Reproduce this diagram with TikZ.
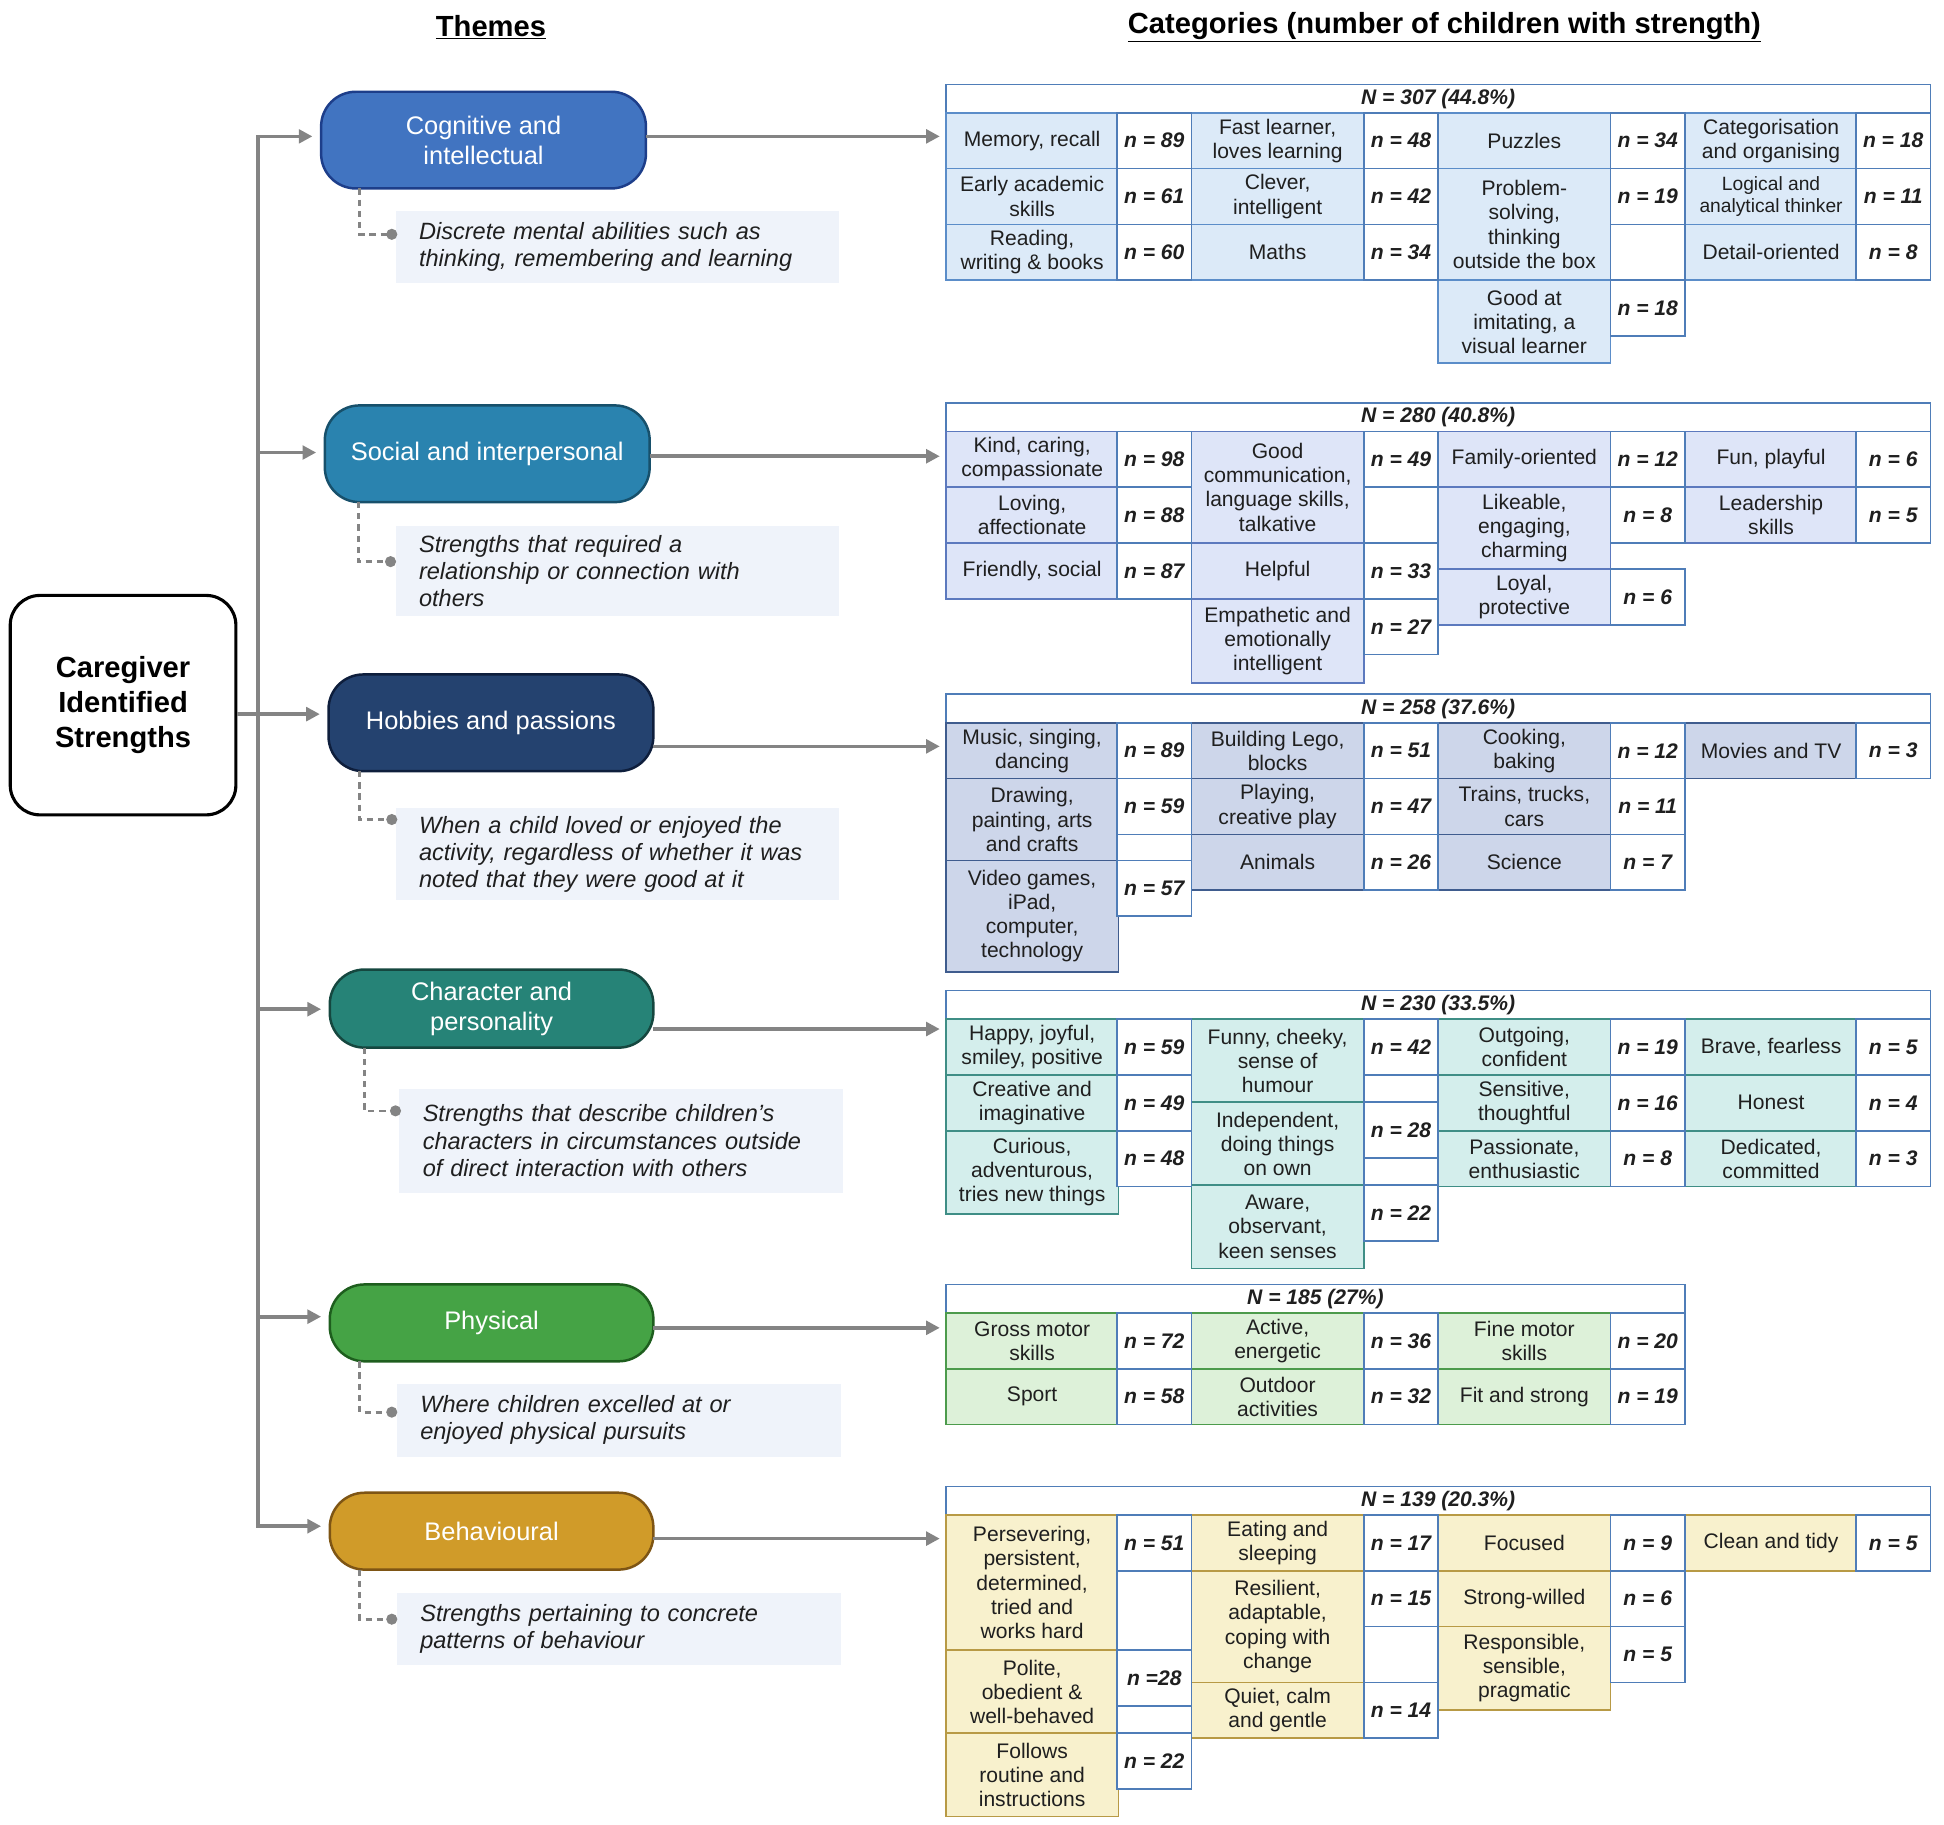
\documentclass[tikz,border=0pt]{standalone}
\usepackage{fontspec}
\setmainfont{Liberation Sans}
\usepackage{tikz}
\usetikzlibrary{arrows.meta}

\definecolor{arrgray}{HTML}{848484}
\definecolor{nblue}{HTML}{4F7DB8}
\definecolor{descfill}{HTML}{EFF3FA}
\definecolor{cogfill}{HTML}{DCEAF8}
\definecolor{cogline}{HTML}{5B8DC9}
\definecolor{socfill}{HTML}{DEE5F8}
\definecolor{socline}{HTML}{5C79BE}
\definecolor{hobfill}{HTML}{CDD6EA}
\definecolor{hobline}{HTML}{3F5C8E}
\definecolor{chafill}{HTML}{D4EEEC}
\definecolor{chaline}{HTML}{3F8E86}
\definecolor{phyfill}{HTML}{DDF1D9}
\definecolor{phyline}{HTML}{4C9B4C}
\definecolor{behfill}{HTML}{F8F1CD}
\definecolor{behline}{HTML}{B89A45}
\definecolor{cogbox}{HTML}{4174C1}
\definecolor{cogedge}{HTML}{1D3E8A}
\definecolor{socbox}{HTML}{2A83AF}
\definecolor{socedge}{HTML}{17506B}
\definecolor{hobbox}{HTML}{24426F}
\definecolor{hobedge}{HTML}{0E1E3C}
\definecolor{chabox}{HTML}{268377}
\definecolor{chaedge}{HTML}{15473F}
\definecolor{phybox}{HTML}{45A345}
\definecolor{phyedge}{HTML}{1E5E1E}
\definecolor{behbox}{HTML}{D09B29}
\definecolor{behedge}{HTML}{7E5514}

\begin{document}
\begin{tikzpicture}[x=1pt, y=-1pt, >={Triangle[length=11pt,width=11pt]},
    cell/.style={draw, anchor=north west, outer sep=0pt, inner sep=1pt, line width=1.3pt, align=center,
        minimum width=139, minimum height=45, text=black!88, font=\fontsize{17}{19.5}\selectfont},
    num/.style={cell, draw=nblue, fill=white, minimum width=60, font=\fontsize{17}{19.5}\selectfont\bfseries\itshape},
    head/.style={cell, draw=nblue, fill=white, minimum height=23, inner sep=0pt, font=\fontsize{17}{19}\selectfont\bfseries\itshape},
    cog/.style={cell, draw=cogline, fill=cogfill},
    soc/.style={cell, draw=socline, fill=socfill},
    hob/.style={cell, draw=hobline, fill=hobfill},
    cha/.style={cell, draw=chaline, fill=chafill},
    phy/.style={cell, draw=phyline, fill=phyfill},
    beh/.style={cell, draw=behline, fill=behfill},
    theme/.style={draw, line width=2pt, rounded corners=28pt, anchor=north west, outer sep=0pt, align=center,
        text=white, font=\fontsize{20.5}{24}\selectfont},
    desc/.style={fill=descfill, anchor=north west, outer sep=0pt, text width=320pt, inner xsep=19pt, inner ysep=0pt,
        align=left, text=black!88, font=\fontsize{19}{22}\selectfont\itshape},
    arr/.style={->, draw=arrgray, line width=3pt},
    dsh/.style={draw=arrgray, line width=2.2pt, dash pattern=on 5pt off 4pt},
    ]
    \useasboundingbox (0,0) rectangle (1568,1472);

    % titles
    \node [font=\fontsize{23.5}{28}\selectfont\bfseries] (tthemes) at (396,22) {\underline{Themes}};
    \node [font=\fontsize{23.5}{28}\selectfont\bfseries] (tcats) at (1165,22) {\underline{Categories (number of children with strength)}};

    % root and themes
    \node [draw, line width=2.5pt, rounded corners=24pt, anchor=north west, minimum width=182, minimum height=177,
        align=center, font=\fontsize{23.5}{28}\selectfont\bfseries] (care) at (7,479) {Caregiver\\Identified\\Strengths};
    \node [theme, fill=cogbox, draw=cogedge, minimum width=262, minimum height=78] (cog) at (259,74) {Cognitive and\\intellectual};
    \node [theme, fill=socbox, draw=socedge, minimum width=262, minimum height=78] (soc) at (262,327) {Social and interpersonal};
    \node [theme, fill=hobbox, draw=hobedge, minimum width=262, minimum height=78] (hob) at (265,544) {Hobbies and passions};
    \node [theme, fill=chabox, draw=chaedge, minimum width=261, minimum height=63] (cha) at (266,782) {Character and\\personality};
    \node [theme, fill=phybox, draw=phyedge, minimum width=261, minimum height=62] (phy) at (266,1036) {Physical};
    \node [theme, fill=behbox, draw=behedge, minimum width=261, minimum height=62] (beh) at (266,1204) {Behavioural};

    % descriptions
    \node [desc, minimum height=58] (d1) at (319,170) {Discrete mental abilities such as\\thinking, remembering and learning};
    \node [desc, minimum height=73] (d2) at (319,424) {Strengths that required a\\relationship or connection with\\others};
    \node [desc, minimum height=74] (d3) at (319,652) {When a child loved or enjoyed the\\activity, regardless of whether it was\\noted that they were good at it};
    \node [desc, minimum height=84] (d4) at (322,878) {Strengths that describe children’s\\characters in circumstances outside\\of direct interaction with others};
    \node [desc, minimum height=59] (d5) at (320,1116) {Where children excelled at or\\enjoyed physical pursuits};
    \node [desc, minimum height=58] (d6) at (320,1285) {Strengths pertaining to concrete\\patterns of behaviour};

    % cognitive and intellectual
    \node [head, minimum width=794] (cogh) at (763,68) {N = 307 (44.8\%)};
    \node [cog] (c11) at (763,91) {Memory, recall};
    \node [cog] (c12) at (763,136) {Early academic\\skills};
    \node [cog] (c13) at (763,181) {Reading,\\writing \& books};
    \node [cog] (c21) at (961,91) {Fast learner,\\loves learning};
    \node [cog] (c22) at (961,136) {Clever,\\intelligent};
    \node [cog] (c23) at (961,181) {Maths};
    \node [cog] (c31) at (1160,91) {Puzzles};
    \node [cog, minimum height=90] (c32) at (1160,136) {Problem-\\solving,\\thinking\\outside the box};
    \node [cog, minimum height=67] (c34) at (1160,226) {Good at\\imitating, a\\visual learner};
    \node [cog] (c41) at (1359,91) {Categorisation\\and organising};
    \node [cog, font=\fontsize{15.5}{17}\selectfont] (c42) at (1359,136) {Logical and\\analytical thinker};
    \node [cog] (c43) at (1359,181) {Detail-oriented};
    \node [num] (cn11) at (901,91) {n = 89};
    \node [num] (cn12) at (901,136) {n = 61};
    \node [num] (cn13) at (901,181) {n = 60};
    \node [num] (cn21) at (1100,91) {n = 48};
    \node [num] (cn22) at (1100,136) {n = 42};
    \node [num] (cn23) at (1100,181) {n = 34};
    \node [num] (cn31) at (1299,91) {n = 34};
    \node [num] (cn32) at (1299,136) {n = 19};
    \node [num] (cn33) at (1299,181) {};
    \node [num] (cn34) at (1299,226) {n = 18};
    \node [num] (cn41) at (1497,91) {n = 18};
    \node [num] (cn42) at (1497,136) {n = 11};
    \node [num] (cn43) at (1497,181) {n = 8};

    % social and interpersonal
    \node [head, minimum width=794] (soch) at (763,325) {N = 280 (40.8\%)};
    \node [soc] (s11) at (763,348) {Kind, caring,\\compassionate};
    \node [soc] (s12) at (763,393) {Loving,\\affectionate};
    \node [soc] (s13) at (763,438) {Friendly, social};
    \node [soc, minimum height=90] (s21) at (961,348) {Good\\communication,\\language skills,\\talkative};
    \node [soc] (s23) at (961,438) {Helpful};
    \node [soc, minimum height=68] (s24) at (961,483) {Empathetic and\\emotionally\\intelligent};
    \node [soc] (s31) at (1160,348) {Family-oriented};
    \node [soc, minimum height=66] (s32) at (1160,393) {Likeable,\\engaging,\\charming};
    \node [soc] (s33) at (1160,459) {Loyal,\\protective};
    \node [soc] (s41) at (1359,348) {Fun, playful};
    \node [soc] (s42) at (1359,393) {Leadership\\skills};
    \node [num] (sn11) at (901,348) {n = 98};
    \node [num] (sn12) at (901,393) {n = 88};
    \node [num] (sn13) at (901,438) {n = 87};
    \node [num] (sn21) at (1100,348) {n = 49};
    \node [num] (sn22) at (1100,393) {};
    \node [num] (sn23) at (1100,438) {n = 33};
    \node [num] (sn24) at (1100,483) {n = 27};
    \node [num] (sn31) at (1299,348) {n = 12};
    \node [num] (sn32) at (1299,393) {n = 8};
    \node [num] (sn33) at (1299,459) {n = 6};
    \node [num] (sn41) at (1497,348) {n = 6};
    \node [num] (sn42) at (1497,393) {n = 5};

    % hobbies and passions
    \node [head, minimum width=794] (hobh) at (763,560) {N = 258 (37.6\%)};
    \node [hob] (h11) at (763,583) {Music, singing,\\dancing};
    \node [hob, minimum height=66] (h12) at (763,628) {Drawing,\\painting, arts\\and crafts};
    \node [hob, minimum height=90] (h13) at (763,694) {Video games,\\iPad,\\computer,\\technology};
    \node [hob] (h21) at (961,583) {Building Lego,\\blocks};
    \node [hob] (h22) at (961,628) {Playing,\\creative play};
    \node [hob] (h23) at (961,673) {Animals};
    \node [hob] (h31) at (1160,583) {Cooking,\\baking};
    \node [hob] (h32) at (1160,628) {Trains, trucks,\\cars};
    \node [hob] (h33) at (1160,673) {Science};
    \node [hob] (h41) at (1359,583) {Movies and TV};
    \node [num] (hn11) at (901,583) {n = 89};
    \node [num] (hn12) at (901,628) {n = 59};
    \node [num, minimum height=21] (hn13) at (901,673) {};
    \node [num] (hn14) at (901,694) {n = 57};
    \node [num] (hn21) at (1100,583) {n = 51};
    \node [num] (hn22) at (1100,628) {n = 47};
    \node [num] (hn23) at (1100,673) {n = 26};
    \node [num] (hn31) at (1299,583) {n = 12};
    \node [num] (hn32) at (1299,628) {n = 11};
    \node [num] (hn33) at (1299,673) {n = 7};
    \node [num] (hn41) at (1497,583) {n = 3};

    % character and personality
    \node [head, minimum width=794] (chah) at (763,799) {N = 230 (33.5\%)};
    \node [cha] (k11) at (763,822) {Happy, joyful,\\smiley, positive};
    \node [cha] (k12) at (763,867) {Creative and\\imaginative};
    \node [cha, minimum height=67] (k13) at (763,912) {Curious,\\adventurous,\\tries new things};
    \node [cha, minimum height=67] (k21) at (961,822) {Funny, cheeky,\\sense of\\humour};
    \node [cha, minimum height=67] (k22) at (961,889) {Independent,\\doing things\\on own};
    \node [cha, minimum height=67] (k23) at (961,956) {Aware,\\observant,\\keen senses};
    \node [cha] (k31) at (1160,822) {Outgoing,\\confident};
    \node [cha] (k32) at (1160,867) {Sensitive,\\thoughtful};
    \node [cha] (k33) at (1160,912) {Passionate,\\enthusiastic};
    \node [cha] (k41) at (1359,822) {Brave, fearless};
    \node [cha] (k42) at (1359,867) {Honest};
    \node [cha] (k43) at (1359,912) {Dedicated,\\committed};
    \node [num] (kn11) at (901,822) {n = 59};
    \node [num] (kn12) at (901,867) {n = 49};
    \node [num] (kn13) at (901,912) {n = 48};
    \node [num] (kn21) at (1100,822) {n = 42};
    \node [num, minimum height=22] (kn22) at (1100,867) {};
    \node [num] (kn23) at (1100,889) {n = 28};
    \node [num, minimum height=22] (kn24) at (1100,934) {};
    \node [num] (kn25) at (1100,956) {n = 22};
    \node [num] (kn31) at (1299,822) {n = 19};
    \node [num] (kn32) at (1299,867) {n = 16};
    \node [num] (kn33) at (1299,912) {n = 8};
    \node [num] (kn41) at (1497,822) {n = 5};
    \node [num] (kn42) at (1497,867) {n = 4};
    \node [num] (kn43) at (1497,912) {n = 3};

    % physical
    \node [head, minimum width=596] (phyh) at (763,1036) {N = 185 (27\%)};
    \node [phy] (p11) at (763,1059) {Gross motor\\skills};
    \node [phy] (p12) at (763,1104) {Sport};
    \node [phy] (p21) at (961,1059) {Active,\\energetic};
    \node [phy] (p22) at (961,1104) {Outdoor\\activities};
    \node [phy] (p31) at (1160,1059) {Fine motor\\skills};
    \node [phy] (p32) at (1160,1104) {Fit and strong};
    \node [num] (pn11) at (901,1059) {n = 72};
    \node [num] (pn12) at (901,1104) {n = 58};
    \node [num] (pn21) at (1100,1059) {n = 36};
    \node [num] (pn22) at (1100,1104) {n = 32};
    \node [num] (pn31) at (1299,1059) {n = 20};
    \node [num] (pn32) at (1299,1104) {n = 19};

    % behavioural
    \node [head, minimum width=794] (behh) at (763,1199) {N = 139 (20.3\%)};
    \node [beh, minimum height=109] (b11) at (763,1222) {Persevering,\\persistent,\\determined,\\tried and\\works hard};
    \node [beh, minimum height=67] (b12) at (763,1331) {Polite,\\obedient \&\\well-behaved};
    \node [beh, minimum height=67] (b13) at (763,1398) {Follows\\routine and\\instructions};
    \node [beh] (b21) at (961,1222) {Eating and\\sleeping};
    \node [beh, minimum height=90] (b22) at (961,1267) {Resilient,\\adaptable,\\coping with\\change};
    \node [beh] (b23) at (961,1357) {Quiet, calm\\and gentle};
    \node [beh] (b31) at (1160,1222) {Focused};
    \node [beh] (b32) at (1160,1267) {Strong-willed};
    \node [beh, minimum height=67] (b33) at (1160,1312) {Responsible,\\sensible,\\pragmatic};
    \node [beh] (b41) at (1359,1222) {Clean and tidy};
    \node [num] (bn11) at (901,1222) {n = 51};
    \node [num, minimum height=64] (bn12) at (901,1267) {};
    \node [num] (bn13) at (901,1331) {n =28};
    \node [num, minimum height=22] (bn14) at (901,1376) {};
    \node [num] (bn15) at (901,1398) {n = 22};
    \node [num] (bn21) at (1100,1222) {n = 17};
    \node [num] (bn22) at (1100,1267) {n = 15};
    \node [num] (bn23) at (1100,1312) {};
    \node [num] (bn24) at (1100,1357) {n = 14};
    \node [num] (bn31) at (1299,1222) {n = 9};
    \node [num] (bn32) at (1299,1267) {n = 6};
    \node [num] (bn33) at (1299,1312) {n = 5};
    \node [num] (bn41) at (1497,1222) {n = 5};

    % trunk and branches
    \coordinate (t1) at (208,110);
    \coordinate (t2) at (208,365);
    \coordinate (t3) at (208,576);
    \coordinate (t4) at (208,814);
    \coordinate (t5) at (208,1062);
    \coordinate (t6) at (208,1231);
    \draw [draw=arrgray, line width=3pt, line cap=rect] (t1) -- (t6);
    \draw [arr, shorten >=7pt] (t1) -- (t1 -| cog.west);
    \draw [arr, shorten >=7pt] (t2) -- (t2 -| soc.west);
    \draw [arr, shorten >=7pt] (care.east |- t3) -- (t3 -| hob.west);
    \draw [arr, shorten >=7pt] (t4) -- (t4 -| cha.west);
    \draw [arr, shorten >=7pt] (t5) -- (t5 -| phy.west);
    \draw [arr, shorten >=7pt] (t6) -- (t6 -| beh.west);

    % theme to categories
    \coordinate (r1) at (763,110);
    \coordinate (r2) at (763,368);
    \coordinate (r3) at (763,602);
    \coordinate (r4) at (763,830);
    \coordinate (r5) at (763,1071);
    \coordinate (r6) at (763,1241);
    \draw [arr, shorten >=5pt] (cog.east |- r1) -- (r1);
    \draw [arr, shorten >=5pt] (soc.east |- r2) -- (r2);
    \draw [arr, shorten >=5pt] (hob.east |- r3) -- (r3);
    \draw [arr, shorten >=5pt] (cha.east |- r4) -- (r4);
    \draw [arr, shorten >=5pt] (phy.east |- r5) -- (r5);
    \draw [arr, shorten >=5pt] (beh.east |- r6) -- (r6);

    % dashed links to descriptions
    \coordinate (q1) at (316,189);
    \coordinate (q2) at (315,453);
    \coordinate (q3) at (316,661);
    \coordinate (q4) at (319,896);
    \coordinate (q5) at (316,1139);
    \coordinate (q6) at (316,1306);
    \draw [dsh] (cog.south west) ++(31,0) |- (q1);
    \draw [dsh] (soc.south west) ++(27,0) |- (q2);
    \draw [dsh] (hob.south west) ++(25,0) |- (q3);
    \draw [dsh] (cha.south west) ++(28,0) |- (q4);
    \draw [dsh] (phy.south west) ++(24,0) |- (q5);
    \draw [dsh] (beh.south west) ++(24,0) |- (q6);
    \foreach \q in {q1,q2,q3,q4,q5,q6}
        \fill [arrgray] (\q) circle (4.5pt);

\end{tikzpicture}
\end{document}
